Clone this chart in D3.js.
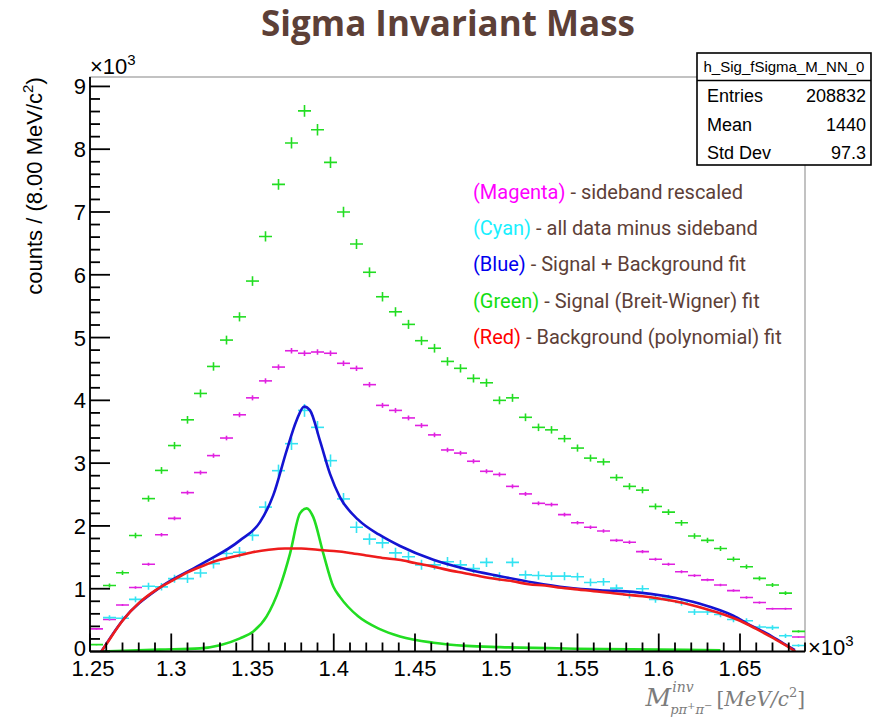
<!DOCTYPE html>
<html>
<head>
<meta charset="utf-8">
<script src="https://cdn.jsdelivr.net/npm/d3@7"></script>
<style>
  body { margin: 0; background: #fff; }
  svg { display: block; }
</style>
</head>
<body>
<svg id="chart" width="873" height="721"></svg>
<script>
// ---- Histogram binning (GeV/c^2) ----
const binLow = 1.25;
const binWidth = 0.008;

// All data (green), counts per bin
const allData = [
  110, 1050, 1254, 1848, 2435, 2884, 3280, 3690, 4110, 4540,
  4960, 5330, 5900, 6610, 7440, 8100, 8610, 8310, 7790, 7000,
  6490, 6040, 5650, 5410, 5210, 4950, 4830, 4620, 4510, 4350,
  4280, 4000, 4040, 3730, 3570, 3530, 3390, 3240, 3080, 3020,
  2770, 2630, 2570, 2310, 2220, 2050, 1840, 1770, 1640, 1470,
  1350, 1165, 1060, 930, 320
];

// Sideband rescaled (magenta)
const sideband = [
  360, 510, 740, 1020, 1390, 1860, 2120, 2530, 2850, 3120,
  3400, 3770, 4040, 4310, 4530, 4790, 4750, 4770, 4750, 4590,
  4510, 4250, 3920, 3840, 3720, 3600, 3450, 3210, 3160, 3030,
  2870, 2820, 2630, 2510, 2360, 2340, 2180, 2050, 1980, 1920,
  1770, 1740, 1590, 1470, 1390, 1270, 1210, 1140, 1060, 970,
  860, 780, 680, 680, 230
];

// All data minus sideband (cyan)
const subtracted = [
  -250, 540, 530, 830, 1040, 1030, 1160, 1160, 1250, 1400,
  1560, 1580, 1850, 2300, 2880, 3310, 3840, 3570, 3040, 2430,
  1980, 1790, 1730, 1570, 1510, 1380, 1380, 1430, 1380, 1320,
  1420, 1190, 1420, 1220, 1210, 1200, 1200, 1190, 1100, 1110,
  1010, 900, 1000, 830, 850, 780, 630, 630, 590, 510,
  490, 390, 380, 250, 95
];

// Scale factor applied to the sideband histogram
const sidebandScale = 0.4;

// Signal + background fit (blue)
const totalFitMass = [1.257, 1.2705, 1.2931, 1.3177, 1.3423, 1.3546, 1.3628, 1.371, 1.3771,
  1.3818, 1.3854, 1.3915, 1.3977, 1.4038, 1.415, 1.428, 1.4408, 1.4613, 1.4818, 1.5023,
  1.5228, 1.5433, 1.5638, 1.5843, 1.6049, 1.6254, 1.6459, 1.6562, 1.6664, 1.6766, 1.6838];
const totalFit = [0, 510, 1020, 1380, 1770, 2060, 2490, 3200, 3680,
  3900, 3840, 3360, 2830, 2460, 2100, 1860, 1680, 1460, 1310, 1200,
  1100, 1020, 975, 950, 880, 760, 570, 420, 290, 130, 20];

// Signal (Breit-Wigner) fit (green)
const signalFitMass = [1.2565, 1.293, 1.3177, 1.330, 1.3423, 1.3505, 1.3587, 1.3669, 1.3731,
  1.3792, 1.3834, 1.3874, 1.3936, 1.3998, 1.4038, 1.415, 1.428, 1.4408, 1.4613, 1.4818,
  1.5023, 1.55, 1.60, 1.638];
const signalFit = [0, 30, 50, 100, 210, 320, 560, 1030, 1560,
  2200, 2280, 2140, 1560, 1030, 870, 560, 360, 240, 140, 90,
  70, 45, 30, 20];

// Background (polynomial) fit (red)
const bgFitMass = [1.257, 1.26, 1.27, 1.28, 1.29, 1.30, 1.31, 1.32, 1.33, 1.34, 1.35, 1.36,
  1.37, 1.38, 1.39, 1.40, 1.41, 1.42, 1.43, 1.44, 1.45, 1.46, 1.47, 1.48, 1.49, 1.50,
  1.51, 1.52, 1.53, 1.54, 1.55, 1.56, 1.57, 1.58, 1.59, 1.60, 1.61, 1.62, 1.63, 1.64,
  1.65, 1.66, 1.67, 1.68, 1.684];
const bgFit = [0, 115, 490, 770, 970, 1120, 1260, 1370, 1460, 1520, 1580, 1620,
  1640, 1640, 1620, 1600, 1570, 1530, 1490, 1460, 1410, 1360, 1300, 1250, 1200, 1155,
  1120, 1070, 1050, 1015, 990, 960, 935, 905, 880, 845, 800, 740, 670, 590,
  490, 360, 220, 70, 0];

// Axis ticks
const xMajorTicks = [1.25, 1.30, 1.35, 1.40, 1.45, 1.50, 1.55, 1.60, 1.65];
const xTickLabels = ["1.25", "1.3", "1.35", "1.4", "1.45", "1.5", "1.55", "1.6", "1.65"];
const yMajorTicks = [0, 1000, 2000, 3000, 4000, 5000, 6000, 7000, 8000, 9000];
const yTickLabels = ["0", "1", "2", "3", "4", "5", "6", "7", "8", "9"];

// Legend lines
const legendKeys = ["(Magenta)", "(Cyan)", "(Blue)", "(Green)", "(Red)"];
const legendTexts = [" - sideband rescaled", " - all data minus sideband",
  " - Signal + Background fit", " - Signal (Breit-Wigner) fit", " - Background (polynomial) fit"];

// Statistics box
const statsTitle = "h_Sig_fSigma_M_NN_0";
const statsNames = ["Entries", "Mean", "Std Dev"];
const statsValues = ["208832", "1440", "97.3"];

// ---- Styles ----
const COL = {
  green: "#22dd22",
  magenta: "#e020e0",
  cyan: "#33e3f2",
  blue: "#1414d2",
  red: "#ee1c1c",
  brown: "#5d4037"
};
const legendColors = ["#ff00ff", "#19f0ff", "#0000ee", "#11dd11", "#ff0000"];
const rootFont = "'Liberation Sans', Arial, Helvetica, sans-serif";

const frame = { left: 90, right: 805, top: 77, bottom: 651.5 };
const svg = d3.select("#chart");

const x = d3.scaleLinear().domain([1.25, 1.69]).range([frame.left, frame.right]);
const y = d3.scaleLinear().domain([0, 9150]).range([frame.bottom, frame.top]);

// Title
svg.append("text")
  .attr("x", 448).attr("y", 36)
  .attr("text-anchor", "middle")
  .attr("font-family", "'Open Sans', sans-serif")
  .attr("font-weight", 700)
  .attr("font-size", 35)
  .attr("fill", COL.brown)
  .text("Sigma Invariant Mass");

// Frame
svg.append("rect")
  .attr("x", frame.left).attr("y", frame.top)
  .attr("width", frame.right - frame.left)
  .attr("height", frame.bottom - frame.top)
  .attr("fill", "none").attr("stroke", "#9a9a9a").attr("stroke-width", 1.2);

svg.append("defs").append("clipPath").attr("id", "plotClip")
  .append("rect")
  .attr("x", frame.left).attr("y", frame.top)
  .attr("width", frame.right - frame.left)
  .attr("height", frame.bottom - frame.top);

const plot = svg.append("g").attr("clip-path", "url(#plotClip)");

// Histogram markers with error bars
function drawHist(values, errFn, color) {
  const g = plot.append("g").attr("stroke", color).attr("stroke-width", 1.6).attr("fill", "none");
  values.forEach((v, i) => {
    const lo = binLow + i * binWidth;
    const c = lo + binWidth / 2;
    const e = errFn(i);
    g.append("line")
      .attr("x1", x(lo)).attr("x2", x(lo + binWidth))
      .attr("y1", y(v)).attr("y2", y(v));
    g.append("line")
      .attr("x1", x(c)).attr("x2", x(c))
      .attr("y1", y(v - e)).attr("y2", y(v + e));
  });
}

const errAll = i => Math.sqrt(Math.max(allData[i], 0));
const errSide = i => Math.sqrt(Math.max(sideband[i], 0) * sidebandScale);
const errSub = i => Math.sqrt(errAll(i) ** 2 + errSide(i) ** 2);

drawHist(allData, errAll, COL.green);
drawHist(sideband, errSide, COL.magenta);
drawHist(subtracted, errSub, COL.cyan);

// Fit curves
function drawCurve(ms, vs, color, width) {
  const line = d3.line()
    .x(d => x(d[0])).y(d => y(d[1]))
    .curve(d3.curveMonotoneX);
  plot.append("path")
    .datum(ms.map((m, i) => [m, vs[i]]))
    .attr("d", line)
    .attr("fill", "none").attr("stroke", color)
    .attr("stroke-width", width).attr("stroke-linejoin", "round");
}
drawCurve(signalFitMass, signalFit, COL.green, 2.6);
drawCurve(totalFitMass, totalFit, COL.blue, 2.6);
drawCurve(bgFitMass, bgFit, COL.red, 2.6);

// ---- Axes ----
const axisG = svg.append("g").attr("stroke", "#000").attr("stroke-width", 1.8);
axisG.append("line").attr("x1", frame.left).attr("x2", frame.right)
  .attr("y1", frame.bottom).attr("y2", frame.bottom);
axisG.append("line").attr("x1", frame.left).attr("x2", frame.left)
  .attr("y1", frame.top).attr("y2", frame.bottom);

const xMinor = d3.range(0, 45).map(k => 1.25 + k * 0.01).filter(v => v <= 1.6901);
xMinor.forEach(v => {
  const isMajor = xMajorTicks.some(t => Math.abs(t - v) < 1e-6);
  axisG.append("line")
    .attr("x1", x(v)).attr("x2", x(v))
    .attr("y1", frame.bottom).attr("y2", frame.bottom - (isMajor ? 18 : 9));
});
const yMinor = d3.range(0, 46).map(k => k * 200).filter(v => v <= 9150);
yMinor.forEach(v => {
  const isMajor = v % 1000 === 0;
  axisG.append("line")
    .attr("x1", frame.left).attr("x2", frame.left + (isMajor ? 20 : 10))
    .attr("y1", y(v)).attr("y2", y(v));
});

// Tick labels
const labelsG = svg.append("g")
  .attr("font-family", rootFont).attr("font-size", 22).attr("fill", "#000");
xMajorTicks.forEach((t, i) => {
  labelsG.append("text")
    .attr("x", x(t) + (i === 0 ? 3 : 0)).attr("y", frame.bottom + 24)
    .attr("text-anchor", "middle").text(xTickLabels[i]);
});
yMajorTicks.forEach((t, i) => {
  labelsG.append("text")
    .attr("x", frame.left - 4).attr("y", y(t) + (i === 0 ? 4 : 8))
    .attr("text-anchor", "end").text(yTickLabels[i]);
});

// Exponent markers
function exponentLabel(px, py) {
  const t = labelsG.append("text").attr("x", px).attr("y", py);
  t.append("tspan").text("\u00d710");
  t.append("tspan").attr("font-size", 15).attr("dy", -9).text("3");
}
exponentLabel(frame.left, 74);
exponentLabel(frame.right + 3, 655);

// Y axis title
svg.append("text")
  .attr("transform", "translate(42,186) rotate(-90)")
  .attr("text-anchor", "middle")
  .attr("font-family", rootFont).attr("font-size", 22).attr("fill", "#000")
  .call(t => {
    t.append("tspan").text("counts / (8.00 MeV/c");
    t.append("tspan").attr("font-size", 15).attr("dy", -9).text("2");
    t.append("tspan").attr("dy", 9).text(")");
  });

// X axis title (math style), right-aligned to the end of the axis
const xt = svg.append("g")
  .attr("font-family", "'DejaVu Serif', 'Liberation Serif', serif")
  .attr("font-style", "italic").attr("fill", "#7c7c7c");
const mSym = xt.append("text").attr("x", 0).attr("y", 706).attr("font-size", 25).text("M");
const mW = mSym.node().getComputedTextLength();
const sup = xt.append("text").attr("x", mW + 1).attr("y", 692).attr("font-size", 14).text("inv");
const sub = xt.append("text").attr("x", mW - 1).attr("y", 714).attr("font-size", 13)
  .call(t => {
    t.append("tspan").text("p\u03c0");
    t.append("tspan").attr("font-size", 10).attr("dy", -5).text("+");
    t.append("tspan").attr("font-size", 13).attr("dy", 5).text("\u03c0");
    t.append("tspan").attr("font-size", 10).attr("dy", -5).text("\u2212");
  });
const scriptW = Math.max(sup.node().getComputedTextLength() + 2, sub.node().getComputedTextLength());
const unit = xt.append("text").attr("x", mW + scriptW + 3).attr("y", 706).attr("font-size", 20)
  .call(t => {
    t.append("tspan").attr("font-style", "normal").text("[");
    t.append("tspan").text("MeV/c");
    t.append("tspan").attr("font-size", 13).attr("dy", -9).attr("font-style", "normal").text("2");
    t.append("tspan").attr("dy", 9).attr("font-style", "normal").text("]");
  });
const xtWidth = mW + scriptW + 3 + unit.node().getComputedTextLength();
xt.attr("transform", `translate(${frame.right - xtWidth},0)`);

// Statistics box
const sb = svg.append("g").attr("font-family", rootFont).attr("fill", "#000");
sb.append("rect").attr("x", 697).attr("y", 53).attr("width", 174).attr("height", 112)
  .attr("fill", "#fff").attr("stroke", "#000").attr("stroke-width", 1.6);
sb.append("line").attr("x1", 697).attr("x2", 871).attr("y1", 80.5).attr("y2", 80.5)
  .attr("stroke", "#000").attr("stroke-width", 1.4);
sb.append("text").attr("x", 784).attr("y", 72).attr("text-anchor", "middle")
  .attr("font-size", 15).text(statsTitle);
statsNames.forEach((n, i) => {
  const by = 102 + i * 28.5;
  sb.append("text").attr("x", 707).attr("y", by).attr("font-size", 18).text(n);
  sb.append("text").attr("x", 866).attr("y", by).attr("font-size", 18)
    .attr("text-anchor", "end").text(statsValues[i]);
});

// Colour legend
const lg = svg.append("g").attr("font-family", "Roboto, 'Liberation Sans', sans-serif")
  .attr("font-size", 20);
legendKeys.forEach((k, i) => {
  const t = lg.append("text").attr("x", 473).attr("y", 198.5 + i * 36.4);
  t.append("tspan").attr("fill", legendColors[i]).text(k);
  t.append("tspan").attr("fill", COL.brown).text(legendTexts[i]);
});
</script>
</body>
</html>
